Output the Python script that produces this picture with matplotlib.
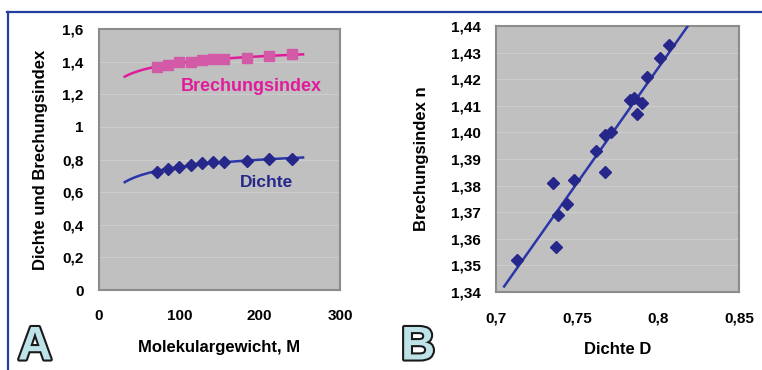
import numpy as np
import matplotlib.pyplot as plt
import matplotlib.patheffects as pe
from matplotlib.lines import Line2D
from matplotlib.ticker import FuncFormatter

plt.rcParams['font.family'] = ['Liberation Sans', 'DejaVu Sans']
plt.rcParams['font.weight'] = 'bold'

# --- panel A: Molekulargewicht vs. Dichte / Brechungsindex ---
mol_weight = [72, 86, 100, 114, 128, 142, 156, 184, 212, 240]
dichte_a = [0.725, 0.740, 0.752, 0.766, 0.777, 0.783, 0.787, 0.793, 0.801, 0.801]
brechung_a = [1.369, 1.380, 1.396, 1.400, 1.410, 1.414, 1.414, 1.424, 1.435, 1.445]

# --- panel B: Dichte vs. Brechungsindex ---
dichte_b = [0.713, 0.737, 0.738, 0.744, 0.735, 0.748, 0.762, 0.767, 0.767, 0.771,
            0.783, 0.785, 0.787, 0.790, 0.793, 0.801, 0.807]
brechung_b = [1.352, 1.357, 1.369, 1.373, 1.381, 1.382, 1.393, 1.385, 1.399, 1.400,
              1.412, 1.413, 1.407, 1.411, 1.421, 1.428, 1.433]

BG = '#c0c0c0'
GRID = '#cdcdcd'
NAVY = '#25288a'
LINE_BLUE = '#2b36a8'
MAGENTA = '#e01c9a'
PINK = '#d35aa6'


def style_axes(ax):
    ax.set_facecolor(BG)
    for s in ax.spines.values():
        s.set_color('#8c8c8c')
        s.set_linewidth(1.5)
    ax.grid(axis='y', color=GRID, lw=0.8)
    ax.set_axisbelow(True)
    ax.tick_params(length=0, labelsize=11)
    ax.tick_params(axis='y', pad=11)
    ax.tick_params(axis='x', pad=14)


fig = plt.figure(figsize=(7.62, 3.70), dpi=100)

# ---------- A ----------
ax1 = fig.add_axes([99 / 762, 1 - 290 / 370, 241 / 762, 261 / 370])
style_axes(ax1)
ax1.set_xlim(0, 300)
ax1.set_ylim(0, 1.6)
ax1.set_xticks([0, 100, 200, 300])
ax1.set_yticks(np.arange(0, 1.61, 0.2))
ax1.yaxis.set_major_formatter(FuncFormatter(
    lambda v, p: '0' if abs(v) < 1e-9 else ('{:g}'.format(round(v, 1))).replace('.', ',')))

# trend curves: linear fit in M^(-1/4)
mfit = np.linspace(32, 254, 100)
tm = np.power(mol_weight, -0.25)
cb = np.polyfit(tm, brechung_a, 1)
cd = np.polyfit(tm, dichte_a, 1)
ax1.plot(mfit, np.polyval(cb, mfit ** -0.25), color=MAGENTA, lw=1.8, zorder=3)
ax1.plot(mfit, np.polyval(cd, mfit ** -0.25), color=LINE_BLUE, lw=1.8, zorder=3)
ax1.plot(mol_weight, brechung_a, 's', color=PINK, ms=7, zorder=4)
ax1.plot(mol_weight, dichte_a, 'D', color=NAVY, ms=6, zorder=4)

ax1.text(190, 1.245, 'Brechungsindex', color=MAGENTA, fontsize=13,
         fontweight='bold', ha='center', va='center')
ax1.text(208, 0.656, 'Dichte', color=NAVY, fontsize=12.5,
         fontweight='bold', ha='center', va='center')
ax1.set_xlabel('Molekulargewicht, M', fontsize=12, fontweight='bold', labelpad=12)
ax1.set_ylabel('Dichte und Brechungsindex', fontsize=12, fontweight='bold', labelpad=10)

# ---------- B ----------
ax2 = fig.add_axes([496 / 762, 1 - 292 / 370, 243 / 762, 266 / 370])
style_axes(ax2)
ax2.set_xlim(0.7, 0.85)
ax2.set_ylim(1.34, 1.44)
ax2.set_xticks([0.7, 0.75, 0.8, 0.85])
ax2.set_yticks(np.arange(1.34, 1.4401, 0.01))
ax2.xaxis.set_major_formatter(FuncFormatter(
    lambda v, p: ('{:g}'.format(round(v, 2))).replace('.', ',')))
ax2.yaxis.set_major_formatter(FuncFormatter(
    lambda v, p: '{:.2f}'.format(v).replace('.', ',')))

k = np.polyfit(dichte_b, brechung_b, 1)
dfit = np.linspace(0.705, 0.83, 50)
ax2.plot(dfit, np.polyval(k, dfit), color=LINE_BLUE, lw=1.8, zorder=3)
ax2.plot(dichte_b, brechung_b, 'D', color=NAVY, ms=6.5, zorder=4)
ax2.set_xlabel('Dichte D', fontsize=12, fontweight='bold', labelpad=12)
ax2.set_ylabel('Brechungsindex n', fontsize=12, fontweight='bold', labelpad=16)

# panel letters
for x, s in [(35 / 762, 'A'), (418 / 762, 'B')]:
    fig.text(x, 0.5 / 370, s, fontsize=34, fontweight='bold', color='#bde3e8',
             ha='center', va='bottom',
             path_effects=[pe.withStroke(linewidth=3, foreground='#1a1a1a')])

# blue frame
fig.add_artist(Line2D([7 / 762, 1], [1 - 11.5 / 370] * 2, color='#23409e', lw=1.6,
                      transform=fig.transFigure))
fig.add_artist(Line2D([8 / 762] * 2, [0, 1 - 11.5 / 370], color='#23409e', lw=1.6,
                      transform=fig.transFigure))

fig.savefig('out.png', dpi=100, facecolor='white')
